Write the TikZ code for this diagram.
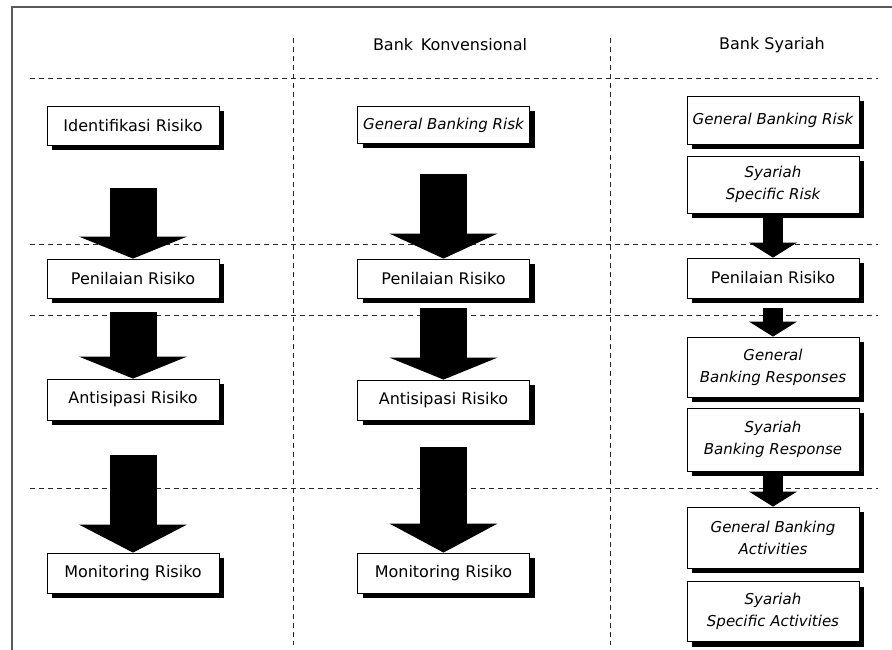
\documentclass[tikz,border=0pt]{standalone}
\usepackage{fontspec}
\setmainfont{DejaVu Sans}
\usepackage{tikz}
\usetikzlibrary{arrows.meta}
\definecolor{FrameGray}{RGB}{90,90,90}
\definecolor{GridGray}{RGB}{40,40,40}

\begin{document}
\begin{tikzpicture}[x=1pt,y=-1pt,
    font=\fontsize{16}{22}\selectfont,
    grid/.style={GridGray,line width=0.9pt,dash pattern=on 5pt off 4pt},
    box/.style={draw=black,fill=white,line width=0.8pt,minimum width=172pt,
      inner sep=2pt,align=center,
      preaction={fill=black,transform canvas={shift={(5,5)}}}},
    itbox/.style={box,font=\fontsize{15}{22}\selectfont\itshape},
    bigArrow/.style={line width=47pt,-{Triangle[width=108pt,length=#1,line width=0pt]}},
    bigArrow/.default=22pt,
    smallArrow/.style={line width=20pt,-{Triangle[width=48pt,length=15pt,line width=0pt]}}]
  \useasboundingbox (0,0) rectangle (892,650);
  \draw[FrameGray,line width=1.2pt] (892,7) -| (12,650);
  % grid
  \foreach \gy in {78,244,315,488}
    \draw[grid] (30,\gy) -- (878,\gy);
  \foreach \gx in {293,610}
    \draw[grid] (\gx,38) -- (\gx,645);
  \node (headKonv) at (450,45) {Bank\, Konvensional};
  \node (headSyar) at (772,45) {Bank Syariah};

  % kolom kiri
  \node[box,minimum height=39pt] (identA) at (133,125.5) {Identifikasi Risiko};
  \node[box,minimum height=39pt] (penA) at (133,278.5) {Penilaian Risiko};
  \node[box,minimum height=41pt] (antA) at (133,399.5) {Antisipasi Risiko};
  \node[box,minimum height=40pt] (monA) at (133,573) {Monitoring Risiko};
  \coordinate (topA1) at (133,188);
  \coordinate (topA2) at (133,312);
  \coordinate (topA3) at (133,455);

  % bank konvensional
  \node[itbox,minimum height=37pt] (gbrB) at (443.5,125) {General Banking Risk};
  \node[box,minimum height=39pt] (penB) at (443.5,278.5) {Penilaian Risiko};
  \node[box,minimum height=40pt] (antB) at (443.5,400) {Antisipasi Risiko};
  \node[box,minimum height=40pt] (monB) at (443.5,573) {Monitoring Risiko};
  \coordinate (topB1) at (443.5,174);
  \coordinate (topB2) at (443.5,308);
  \coordinate (topB3) at (443.5,447);

  % bank syariah
  \node[itbox,minimum height=48pt] (gbrC) at (773,120.5) {General Banking Risk};
  \node[itbox,minimum height=57pt] (ssrC) at (773,184.5) {Syariah\\Specific Risk};
  \node[box,minimum height=40pt] (penC) at (773,278) {Penilaian Risiko};
  \node[itbox,minimum height=60pt] (gbrespC) at (773,367) {General\\Banking Responses};
  \node[itbox,minimum height=63pt] (sbrespC) at (773,439.5) {Syariah\\Banking Response};
  \node[itbox,minimum height=61pt] (gbactC) at (773,537.5) {General Banking\\Activities};
  \node[itbox,minimum height=60pt] (ssactC) at (773,611.5) {Syariah\\Specific Activities};
  \coordinate (topC2) at (773,308);

  % panah
  \draw[bigArrow] (topA1) -- (penA);
  \draw[bigArrow] (topA2) -- (antA);
  \draw[bigArrow=28pt] (topA3) -- (monA);
  \draw[bigArrow=25pt] (topB1) -- (penB);
  \draw[bigArrow] (topB2) -- (antB);
  \draw[bigArrow=29pt] (topB3) -- (monB);
  \draw[smallArrow] (ssrC) -- (penC);
  \draw[smallArrow] (topC2) -- (gbrespC);
  \draw[smallArrow] (sbrespC) -- (gbactC);
\end{tikzpicture}
\end{document}
